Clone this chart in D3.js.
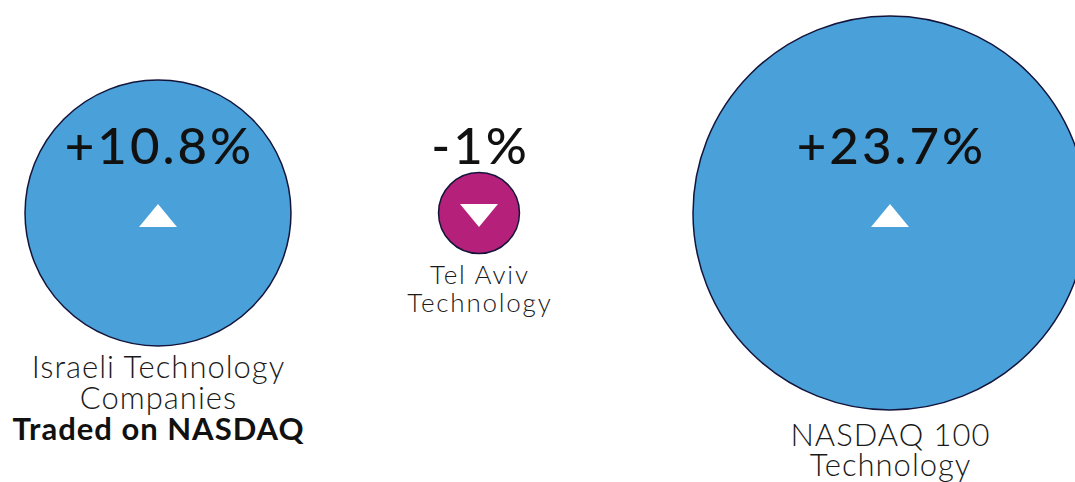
<!DOCTYPE html>
<html>
<head>
<meta charset="utf-8">
<script src="https://cdn.jsdelivr.net/npm/d3@7"></script>
<style>
  body { margin: 0; background: #fff; }
  svg { display: block; }
  .value { font-family: Lato, "Open Sans", sans-serif; font-weight: 500; fill: #111; letter-spacing: 3px; }
  .label { font-family: Lato, "Open Sans", sans-serif; font-weight: 300; fill: #1a1a1a; }
  .label.bold { font-weight: 700; fill: #111; }
</style>
</head>
<body>
<div id="main"></div>
<script>
const names = ['Israeli Technology Companies', 'Tel Aviv Technology', 'NASDAQ 100 Technology'];
const changes = [10.8, -1, 23.7];
const labelLines = [
  ['Israeli Technology', 'Companies', 'Traded on NASDAQ'],
  ['Tel Aviv', 'Technology'],
  ['NASDAQ 100', 'Technology']
];
const boldLines = [[false, false, true], [false, false], [false, false]];

const width = 1075;
const height = 482;

// layout
const centersX = [158, 479, 890];
const centerY = 213;
const labelTop = [378, 284, 446];
const labelSize = [31, 26, 31];
const labelSpacing = [1, 1.8, 1];
const labelStep = [31, 28, 30];

const svg = d3.select('#main').append('svg')
    .attr('width', width)
    .attr('height', height);

const rScale = d3.scaleSqrt()
  .domain([0, d3.max(changes, Math.abs)])
  .range([0, 197]);

const colour = d => d >= 0 ? '#4aa0d8' : '#b5207a';
const fmt = d => (d > 0 ? '+' : '') + d + '%';

const data = names.map((n, i) => ({ name: n, value: changes[i], lines: labelLines[i], bold: boldLines[i], i }));

const g = svg.selectAll('g.item').data(data).join('g')
    .attr('class', 'item')
    .attr('transform', d => `translate(${centersX[d.i]},${centerY})`);

g.append('circle')
    .attr('r', d => rScale(Math.abs(d.value)))
    .attr('fill', d => colour(d.value))
    .attr('stroke', '#14143a')
    .attr('stroke-width', 1.5);

g.append('text')
    .attr('class', 'value')
    .attr('text-anchor', 'middle')
    .attr('x', 1.5)
    .attr('y', -49)
    .attr('font-size', 51)
    .text(d => fmt(d.value));

// arrows
const tw = 19, th = 23;
g.append('path')
    .attr('fill', '#fff')
    .attr('d', d => d.value >= 0
      ? `M0,-9L${tw},${th - 9}L${-tw},${th - 9}Z`
      : `M${-tw},-9L${tw},-9L0,${th - 9}Z`);

g.each(function(d) {
  const t = d3.select(this).append('text')
      .attr('text-anchor', 'middle')
      .style('letter-spacing', labelSpacing[d.i] + 'px');
  d.lines.forEach((line, j) => {
    t.append('tspan')
        .attr('class', d.bold[j] ? 'label bold' : 'label')
        .attr('x', labelSpacing[d.i] / 2)
        .attr('y', labelTop[d.i] - centerY + j * labelStep[d.i])
        .attr('font-size', labelSize[d.i])
        .text(line);
  });
});
</script>
</body>
</html>
